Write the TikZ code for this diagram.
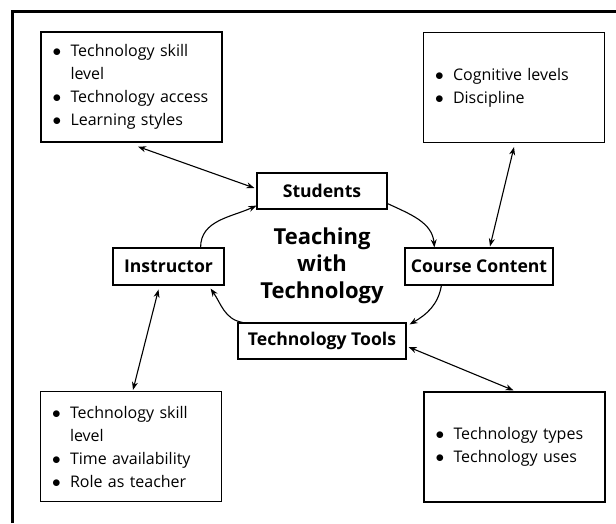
\documentclass[tikz,border=0pt]{standalone}
\usepackage{fontspec}
\setmainfont{Open Sans}
\usetikzlibrary{arrows.meta}
\newcommand{\bul}{\makebox[18pt][l]{$\bullet$}}
\newcommand{\ind}{\hspace*{18pt}}

\begin{document}
\begin{tikzpicture}
  [x=1pt,y=1pt,line width=1.1pt,>={Stealth[length=8pt,width=6pt]},
   every node/.style={draw,line width=1.2pt,inner sep=0pt},
   part/.style={minimum height=36pt,font=\fontsize{17.6}{20}\selectfont\bfseries},
   list/.style={minimum width=181pt,minimum height=110pt,text width=158pt,inner xsep=11.5pt,align=left,font=\fontsize{16}{23}\selectfont}]
  \useasboundingbox (0,0) rectangle (616,523);
  \draw[line width=3pt] (12,0) -- (12,511) -- (616,511);
  % the four parts
  \node[part,minimum width=130pt] (stud) at (322,332) {Students};
  \node[part,minimum width=148pt,minimum height=37pt] (cont) at (479,256.5) {Course Content};
  \node[part,minimum width=168pt] (tools) at (322,182) {Technology Tools};
  \node[part,minimum width=111pt,minimum height=37pt] (instr) at (168.5,256.5) {Instructor};
  \node[draw=none,align=center,font=\fontsize{22}{27}\selectfont\bfseries] (title) at (322,257) {Teaching\\with\\Technology};
  % the lists
  \node[list] (tl) at (131.5,436) {\bul Technology skill\\\ind level\\\bul Technology access\\\bul Learning styles};
  \node[list] (tr) at (514,435.5) {\bul Cognitive levels\\\bul Discipline};
  \node[list] (bl) at (131,76.5) {\bul Technology skill\\\ind level\\\bul Time availability\\\bul Role as teacher};
  \node[list] (br) at (514.5,76) {\bul Technology types\\\bul Technology uses};
  % the cycle
  \draw[->] ([xshift=-24pt]instr.north east) to[out=90,in=205] ([yshift=4pt]stud.south west);
  \draw[->] ([yshift=6pt]stud.south east) to[out=-25,in=95] ([xshift=30pt]cont.north west);
  \draw[->] ([xshift=37pt]cont.south west) to[out=-100,in=30] ([xshift=3pt,yshift=-2pt]tools.north east);
  \draw[->] ([xshift=5pt]tools.north west) to[out=170,in=-55] ([xshift=-14pt,yshift=-3pt]instr.south east);
  % the links
  \draw[<->] ([xshift=6.5pt,yshift=-4pt]tl.south) -- ([xshift=-2pt,yshift=3pt]stud.west);
  \draw[<->] ([yshift=-4pt]tr.south) -- ([xshift=11pt,yshift=1pt]cont.north);
  \draw[<->] ([xshift=-10pt,yshift=-4pt]instr.south) -- ([xshift=2pt,yshift=1pt]bl.north);
  \draw[<->] ([xshift=2pt,yshift=-6pt]tools.east) -- ([xshift=-1pt,yshift=1pt]br.north);
\end{tikzpicture}
\end{document}
